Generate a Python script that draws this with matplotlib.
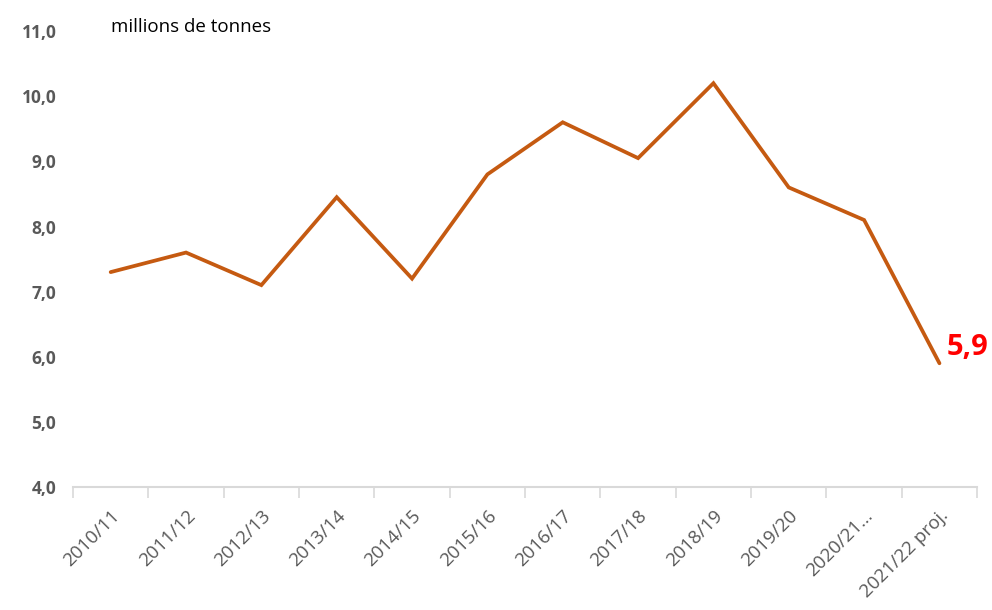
import numpy as np
import matplotlib
matplotlib.use('Agg')
from matplotlib import pyplot as plt

plt.rcParams['font.family'] = ['Open Sans', 'DejaVu Sans']

campagnes = ['2010/11', '2011/12', '2012/13', '2013/14', '2014/15', '2015/16',
             '2016/17', '2017/18', '2018/19', '2019/20', '2020/21…', '2021/22 proj.']
volumes = [7.3, 7.6, 7.1, 8.45, 7.2, 8.8, 9.6, 9.05, 10.2, 8.6, 8.1, 5.9]
yticks = [4.0, 5.0, 6.0, 7.0, 8.0, 9.0, 10.0, 11.0]

fig = plt.figure(figsize=(9.92, 6.10), dpi=100)
ax = fig.add_axes([0.0736, 0.2016, 0.9114, 0.7474])

x = np.arange(len(campagnes))
ax.plot(x, volumes, color='#C55A11', linewidth=2.7, solid_capstyle='round', solid_joinstyle='miter')

ax.set_xlim(-0.5, len(campagnes) - 0.5)
ax.set_ylim(4.0, 11.0)

# ticks between categories, labels at centres
ax.set_xticks(np.arange(-0.5, len(campagnes), 1.0))
ax.set_xticklabels([])
ax.set_xticks(x, minor=True)
ax.set_xticklabels(campagnes, minor=True, rotation=45, ha='right', rotation_mode='anchor',
                   fontsize=13.5, color='#595959')
ax.tick_params(axis='x', which='major', length=8, color='#D9D9D9', width=1.2)
ax.tick_params(axis='x', which='minor', length=0, pad=14)

ax.set_yticks(yticks)
ax.set_yticklabels([f'{v:.1f}'.replace('.', ',') for v in yticks],
                   fontsize=12.5, color='#595959', fontweight='bold')
ax.tick_params(axis='y', length=0, pad=12)

for s in ['top', 'right', 'left']:
    ax.spines[s].set_visible(False)
ax.spines['bottom'].set_color('#D9D9D9')
ax.spines['bottom'].set_linewidth(1.5)

ax.text(0.0, 10.93, 'millions de tonnes', fontsize=13.5, color='#000000', va='bottom', ha='left')
ax.annotate('5,9', xy=(x[-1], volumes[-1]), xytext=(5, 1), textcoords='offset points',
            fontsize=21, fontweight='bold', color='#FF0000', ha='left', va='bottom')

fig.savefig('out.png', dpi=100)
